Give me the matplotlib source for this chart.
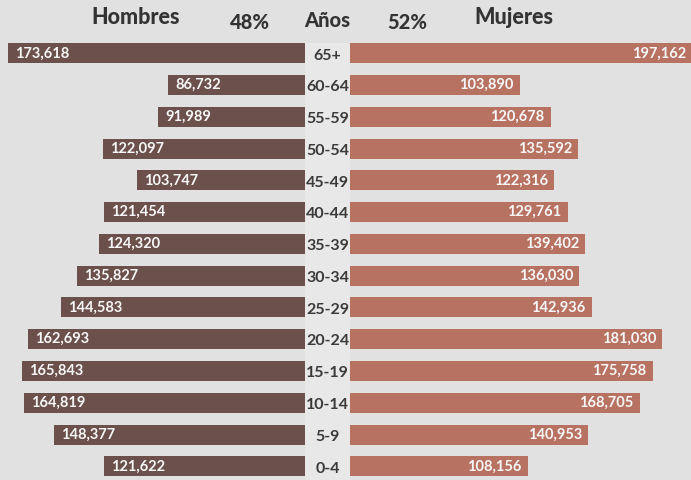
import matplotlib
matplotlib.use("Agg")
import matplotlib.pyplot as plt
from matplotlib.patches import Rectangle

# ---- data ----
age_groups = ["65+", "60-64", "55-59", "50-54", "45-49", "40-44", "35-39",
              "30-34", "25-29", "20-24", "15-19", "10-14", "5-9", "0-4"]
hombres = [173618, 86732, 91989, 122097, 103747, 121454, 124320,
           135827, 144583, 162693, 165843, 164819, 148377, 121622]
mujeres = [197162, 103890, 120678, 135592, 122316, 129761, 139402,
           136030, 142936, 181030, 175758, 168705, 140953, 108156]
header_left = "Hombres"
header_right = "Mujeres"
header_center = "Años"
pct_left = "48%"
pct_right = "52%"

# ---- style ----
BG = "#e1e1e1"
STRIP = "#e8e8e8"
C_MEN = "#6b504c"
C_WOMEN = "#b87262"
TXT = "#333333"
plt.rcParams["font.family"] = ["Lato", "DejaVu Sans"]

W, H = 691, 480
fig = plt.figure(figsize=(W / 100, H / 100), dpi=100, facecolor=BG)
ax = fig.add_axes([0, 0, 1, 1])
ax.set_facecolor(BG)

n = len(age_groups)
ys = list(range(n))
bar_h = 0.63

ax.barh(ys, [-v for v in hombres], height=bar_h, color=C_MEN, zorder=2)
ax.barh(ys, mujeres, height=bar_h, color=C_WOMEN, zorder=2)

ax.set_xlim(-177800, 196600)
ax.set_ylim(13.43, -1.678)

# central label strip
ax.add_patch(Rectangle((-12800, -0.33), 24900, 14.0, facecolor=STRIP,
                       edgecolor="none", zorder=3))

for y, lab, m, w in zip(ys, age_groups, hombres, mujeres):
    ax.text(-350, y + 0.07, lab, ha="center", va="center", fontsize=11.5,
            color="#3a3a3a", fontweight="bold", zorder=4)
    ax.annotate(f"{m:,}", xy=(-m, y), xytext=(5, 0), textcoords="offset points",
                ha="left", va="center", fontsize=10.5, color="#f7f7f7",
                fontweight="bold", zorder=4)
    ax.annotate(f"{w:,}", xy=(w, y), xytext=(-4.5, 0), textcoords="offset points",
                ha="right", va="center", fontsize=10.5, color="#f7f7f7",
                fontweight="bold", zorder=4, annotation_clip=False)

ax.axis("off")

def ftext(px, py, s, size):
    fig.text(px / W, 1 - py / H, s, ha="center", va="baseline", fontsize=size,
             color=TXT, fontweight="black")

ftext(135.5, 24, header_left, 15.5)
ftext(249.5, 29, pct_left, 14.5)
ftext(327, 27, header_center, 14.5)
ftext(407, 29, pct_right, 14.5)
ftext(514, 24, header_right, 15.5)

fig.savefig("out.png", dpi=100, facecolor=BG)
